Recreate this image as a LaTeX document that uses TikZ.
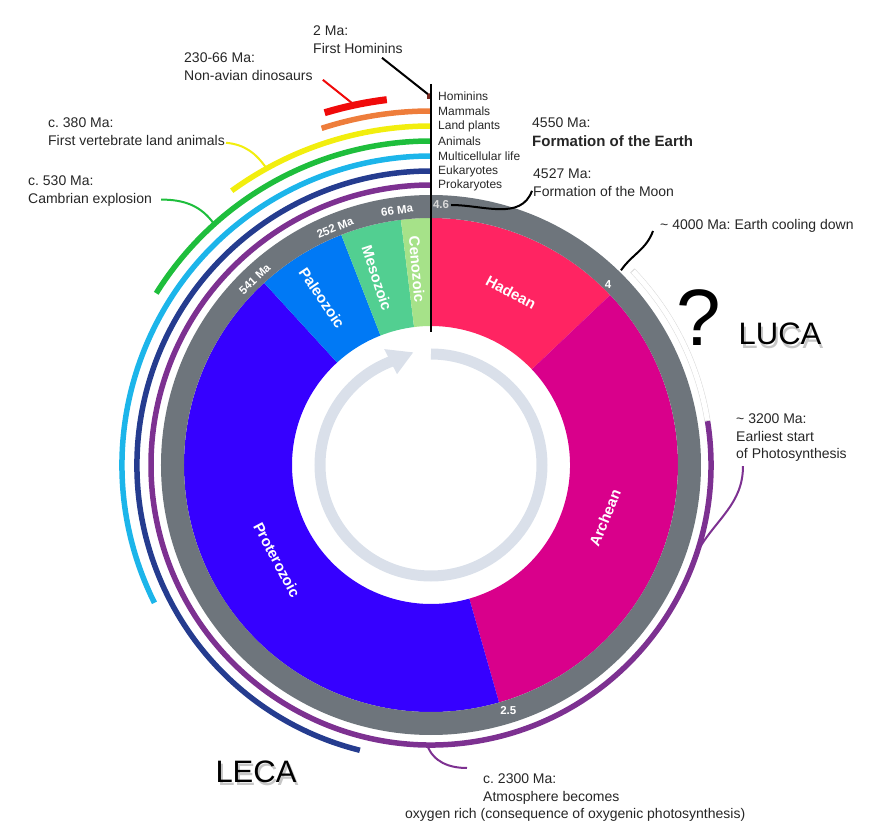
\documentclass[tikz,border=0pt]{standalone}
\usepackage{fontspec}
\setmainfont{Liberation Sans}
\usepackage{tikz}
\usetikzlibrary{calc, positioning, arrows.meta}
\definecolor{hadean}{RGB}{255, 36, 98}
\definecolor{archean}{RGB}{217, 0, 139}
\definecolor{proterozoic}{RGB}{54, 0, 255}
\definecolor{paleozoic}{RGB}{0, 121, 245}
\definecolor{mesozoic}{RGB}{82, 207, 145}
\definecolor{cenozoic}{RGB}{166, 226, 137}
\definecolor{ringgray}{RGB}{110, 117, 124}
\definecolor{arrowgray}{RGB}{218, 224, 234}
\definecolor{prokpurple}{RGB}{125, 49, 145}
\definecolor{eukblue}{RGB}{37, 60, 143}
\definecolor{multiblue}{RGB}{28, 181, 234}
\definecolor{animgreen}{RGB}{30, 190, 60}
\definecolor{plantyellow}{RGB}{242, 238, 14}
\definecolor{mammorange}{RGB}{238, 125, 59}
\definecolor{dinored}{RGB}{240, 10, 10}
\definecolor{hominbrown}{RGB}{120, 40, 30}
\frenchspacing

\begin{document}
\begin{tikzpicture}[x=1pt, y=1pt,
    eonlabel/.style={text=white, font=\fontsize{15}{18}\selectfont\bfseries, inner sep=0pt},
    agelabel/.style={text=white, font=\fontsize{11.5}{13}\selectfont\bfseries, inner sep=0pt},
    lifelabel/.style={anchor=west, font=\fontsize{12}{14}\selectfont, text=black!85, inner sep=0pt},
    note/.style={align=left, anchor=north west, font=\fontsize{14}{17.5}\selectfont, text=black!85, inner sep=0pt},
    lifearc/.style={line width=5.5pt},
    pointer/.style={line width=2pt},
    bigtext/.style={font=\fontsize{31}{36}\selectfont, inner sep=0pt}]
\useasboundingbox (-431,-373) rectangle (448,465);

% eons and the grey rim
\foreach \a/\b/\col in {43.5/90/hadean, -74/43.5/archean, -227.5/-74/proterozoic, 111.3/132.5/paleozoic, 97/111.3/mesozoic, 90/97/cenozoic}
  \fill[\col] (\a:139) arc[start angle=\a, end angle=\b, radius=139] -- (\b:247) arc[start angle=\b, end angle=\a, radius=247] -- cycle;
\fill[ringgray, even odd rule] (0,0) circle[radius=270] (0,0) circle[radius=247];

\draw[arrowgray, line width=11pt] (90:111) arc[start angle=90, end angle=-249, radius=111];
\fill[arrowgray] (99:114) -- (112:125) -- (110.5:97) -- cycle;

% life lines
\draw[black!15, line width=6pt] (44:280) arc[start angle=44, end angle=9, radius=280];
\draw[white, line width=5pt] (43.8:280) arc[start angle=43.8, end angle=9.2, radius=280];
\foreach \r/\a/\col/\txt [count=\i] in {280/9/prokpurple/Prokaryotes, 294/-104/eukblue/Eukaryotes, 309/-153.5/multiblue/Multicellular life, 324/-212/animgreen/Animals, 339/-234/plantyellow/Land plants, 354/-252/mammorange/Mammals, 369/-269.4/hominbrown/Hominins}
{
  \draw[lifearc, \col] (\a:\r) arc[start angle=\a, end angle=-270, radius=\r];
  \node[lifelabel] (life\i) at (7,\r) {\txt};
}
\draw[dinored, line width=7pt] (106.8:368) arc[start angle=106.8, end angle=96.9, radius=368];
\draw[line width=2.5pt] (0,381) -- (0,133);

\node[agelabel, text=black!15] (t46) at (10,260) {4.6};
\node[agelabel, rotate=7.6] (t66) at (97.6:257) {66 Ma};
\node[agelabel, rotate=22] (t252) at (112:256) {252 Ma};
\node[agelabel, rotate=43.5] (t541) at (133.5:256) {541 Ma};
\node[agelabel] (t4) at (45.6:253) {4};
\node[agelabel] (t25) at (-72.5:257) {2.5};

\node[eonlabel, rotate=-28] (hadeanlbl) at (80,173) {Hadean};
\node[eonlabel, rotate=68] (archeanlbl) at (174,-53) {Archean};
\node[eonlabel, rotate=-62] (proterolbl) at (-154,-95) {Proterozoic};
\node[eonlabel, rotate=-56] (paleolbl) at (-109,167) {Paleozoic};
\node[eonlabel, rotate=-72] (mesolbl) at (-54,187) {Mesozoic};
\node[eonlabel, rotate=-85] (cenolbl) at (-14,196) {Cenozoic};

\node[note] (hom) at (-118,439) {2 Ma:\\First Hominins};
\node[note] (dino) at (-247,412) {230-66 Ma:\\Non-avian dinosaurs};
\node[note] (land) at (-383,347) {c. 380 Ma:\\First vertebrate land animals};
\node[note] (camb) at (-403,289) {c. 530 Ma:\\Cambrian explosion};
\node[note] (earth) at (101,347) {4550 Ma:\\[1.5pt]{\fontsize{15}{18}\selectfont\bfseries Formation of the Earth}};
\node[note] (moon) at (102,296) {4527 Ma:\\Formation of the Moon};
\node[note, anchor=west] (cool) at (229,239) {\textasciitilde{} 4000 Ma: Earth cooling down};
\node[note] (photo) at (305,51) {\textasciitilde{} 3200 Ma:\\Earliest start\\of Photosynthesis};
\node[note] (oxy) at (-26,-309) {\hspace*{78pt}c. 2300 Ma:\\\hspace*{78pt}Atmosphere becomes\\oxygen rich (consequence of oxygenic photosynthesis)};

\node[font=\fontsize{80}{90}\selectfont, inner sep=0pt] (qmark) at (268,147) {?};
\node[bigtext, text=black!50, opacity=0.45] at (351,127.5) {LUCA};
\node[bigtext] (luca) at (349,131) {LUCA};
\node[bigtext, text=black!50, opacity=0.45] at (-173,-310) {LECA};
\node[bigtext] (leca) at (-175,-306.5) {LECA};

% pointers to the life lines
\coordinate (homend) at (90.5:371);
\coordinate (dinoend) at (102:368);
\coordinate (landend) at (119:339);
\coordinate (cambend) at (132:324);
\coordinate (coolend) at (45.7:272);
\coordinate (photoend) at (-18:280);
\coordinate (oxyend) at (-90.8:280);
\draw[pointer] ($(hom.south west)+(69,-4)$) -- (homend);
\draw[pointer, dinored] ($(dino.south east)+(10,1)$) -- (dinoend);
\draw[pointer, plantyellow] ($(land.south east)+(1,3)$) to[out=-5, in=125] (landend);
\draw[pointer, animgreen] ($(camb.south east)+(9,7)$) to[out=0, in=125] (cambend);
\draw[pointer] ($(t46.east)+(2,0)$) to[out=0, in=-110] ($(moon.south west)+(-1,6)$);
\draw[pointer] ($(cool.west)+(-7,-5)$) to[out=-110, in=55] (coolend);
\draw[pointer, prokpurple] ($(photo.south west)+(7,-4)$) to[out=-90, in=60] (photoend);
\draw[pointer, prokpurple] (oxyend) to[out=-70, in=180] ($(oxy.north west)+(62,6)$);
\end{tikzpicture}
\end{document}
